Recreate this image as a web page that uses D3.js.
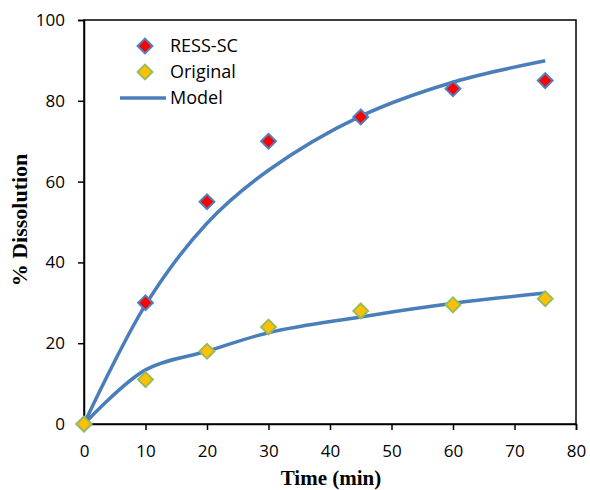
<!DOCTYPE html>
<html lang="en">
<head>
<meta charset="UTF-8">
<title>dissolution</title>
<script src="https://cdn.jsdelivr.net/npm/d3@7"></script>
<style>
  body { margin: 0; background: #fff; }
  svg text { fill: #000; }
  .tick text { font-family: "Open Sans", "Liberation Sans", sans-serif; font-size: 17px; }
  .title { font-family: "Liberation Serif", "DejaVu Serif", serif; font-weight: bold; font-size: 21px; }
  .legend text { font-family: "Open Sans", "Liberation Sans", sans-serif; font-size: 18px; }
</style>
</head>
<body>
<svg id="chart" width="590" height="490"></svg>
<script>
// data
var times = [0, 10, 20, 30, 45, 60, 75];
var ressSC = [0, 30, 55, 70, 76, 83, 85];
var original = [0, 11, 18, 24, 28, 29.5, 31];
var modelRess = [0, 29.5, 49.7, 62.8, 76.2, 84.6, 89.9];
var modelOrig = [0, 13.4, 18, 22.6, 26.5, 29.9, 32.4];
var xTicks = [0, 10, 20, 30, 40, 50, 60, 70, 80];
var yTicks = [0, 20, 40, 60, 80, 100];

var svg = d3.select('#chart');
var pLeft = 84, pRight = 576, pTop = 20, pBottom = 424;

var x = d3.scaleLinear().domain([0, 80]).range([pLeft, pRight]);
var y = d3.scaleLinear().domain([0, 100]).range([pBottom, pTop]);

// frame
svg.append('rect')
    .attr('x', pLeft).attr('y', pTop)
    .attr('width', pRight - pLeft).attr('height', pBottom - pTop)
    .attr('fill', 'none').attr('stroke', '#000').attr('stroke-width', 1.5);

var xAxis = svg.append('g')
    .attr('transform', 'translate(0,' + pBottom + ')')
    .call(d3.axisBottom(x).tickValues(xTicks).tickSize(6).tickPadding(15));
var yAxis = svg.append('g')
    .attr('transform', 'translate(' + pLeft + ',0)')
    .call(d3.axisLeft(y).tickValues(yTicks).tickSize(6).tickPadding(13));
[xAxis, yAxis].forEach(function (a) {
    a.select('.domain').attr('stroke', '#000').attr('stroke-width', 1.5);
    a.selectAll('.tick line').attr('stroke', '#000').attr('stroke-width', 1.5);
});

svg.append('text').attr('class', 'title')
    .attr('x', 331).attr('y', 485)
    .attr('text-anchor', 'middle').text('Time (min)');
svg.append('text').attr('class', 'title')
    .attr('transform', 'translate(27,220) rotate(-90)')
    .attr('text-anchor', 'middle')
    .style('font-size', '22px')
    .text('% Dissolution');

// model lines
var line = d3.line()
    .x(function (d) { return x(d[0]); })
    .y(function (d) { return y(d[1]); })
    .curve(d3.curveCatmullRom);

[modelRess, modelOrig].forEach(function (m) {
    svg.append('path')
        .datum(times.map(function (t, i) { return [t, m[i]]; }))
        .attr('d', line)
        .attr('fill', 'none')
        .attr('stroke', '#4a7ebb')
        .attr('stroke-width', 3.5);
});

// markers
var diamond = d3.symbol().type(d3.symbolDiamond2).size(140);
function markers(vals, fill, stroke) {
    svg.append('g').selectAll('path')
        .data(times.map(function (t, i) { return [t, vals[i]]; }))
        .enter().append('path')
        .attr('d', diamond)
        .attr('transform', function (d) { return 'translate(' + x(d[0]) + ',' + y(d[1]) + ')'; })
        .attr('fill', fill).attr('stroke', stroke).attr('stroke-width', 2);
}
markers(ressSC, '#ff0000', '#4f81bd');
markers(original, '#ffc000', '#9bbb59');

// legend
var lg = svg.append('g').attr('class', 'legend');
lg.append('path').attr('d', diamond).attr('transform', 'translate(145,46)')
    .attr('fill', '#ff0000').attr('stroke', '#4f81bd').attr('stroke-width', 2);
lg.append('path').attr('d', diamond).attr('transform', 'translate(145,72)')
    .attr('fill', '#ffc000').attr('stroke', '#9bbb59').attr('stroke-width', 2);
lg.append('line').attr('x1', 120).attr('x2', 166).attr('y1', 98).attr('y2', 98)
    .attr('stroke', '#4a7ebb').attr('stroke-width', 3.5);
lg.append('text').attr('x', 170).attr('y', 52).text('RESS-SC');
lg.append('text').attr('x', 170).attr('y', 78).text('Original');
lg.append('text').attr('x', 170).attr('y', 104).text('Model');
</script>
</body>
</html>
